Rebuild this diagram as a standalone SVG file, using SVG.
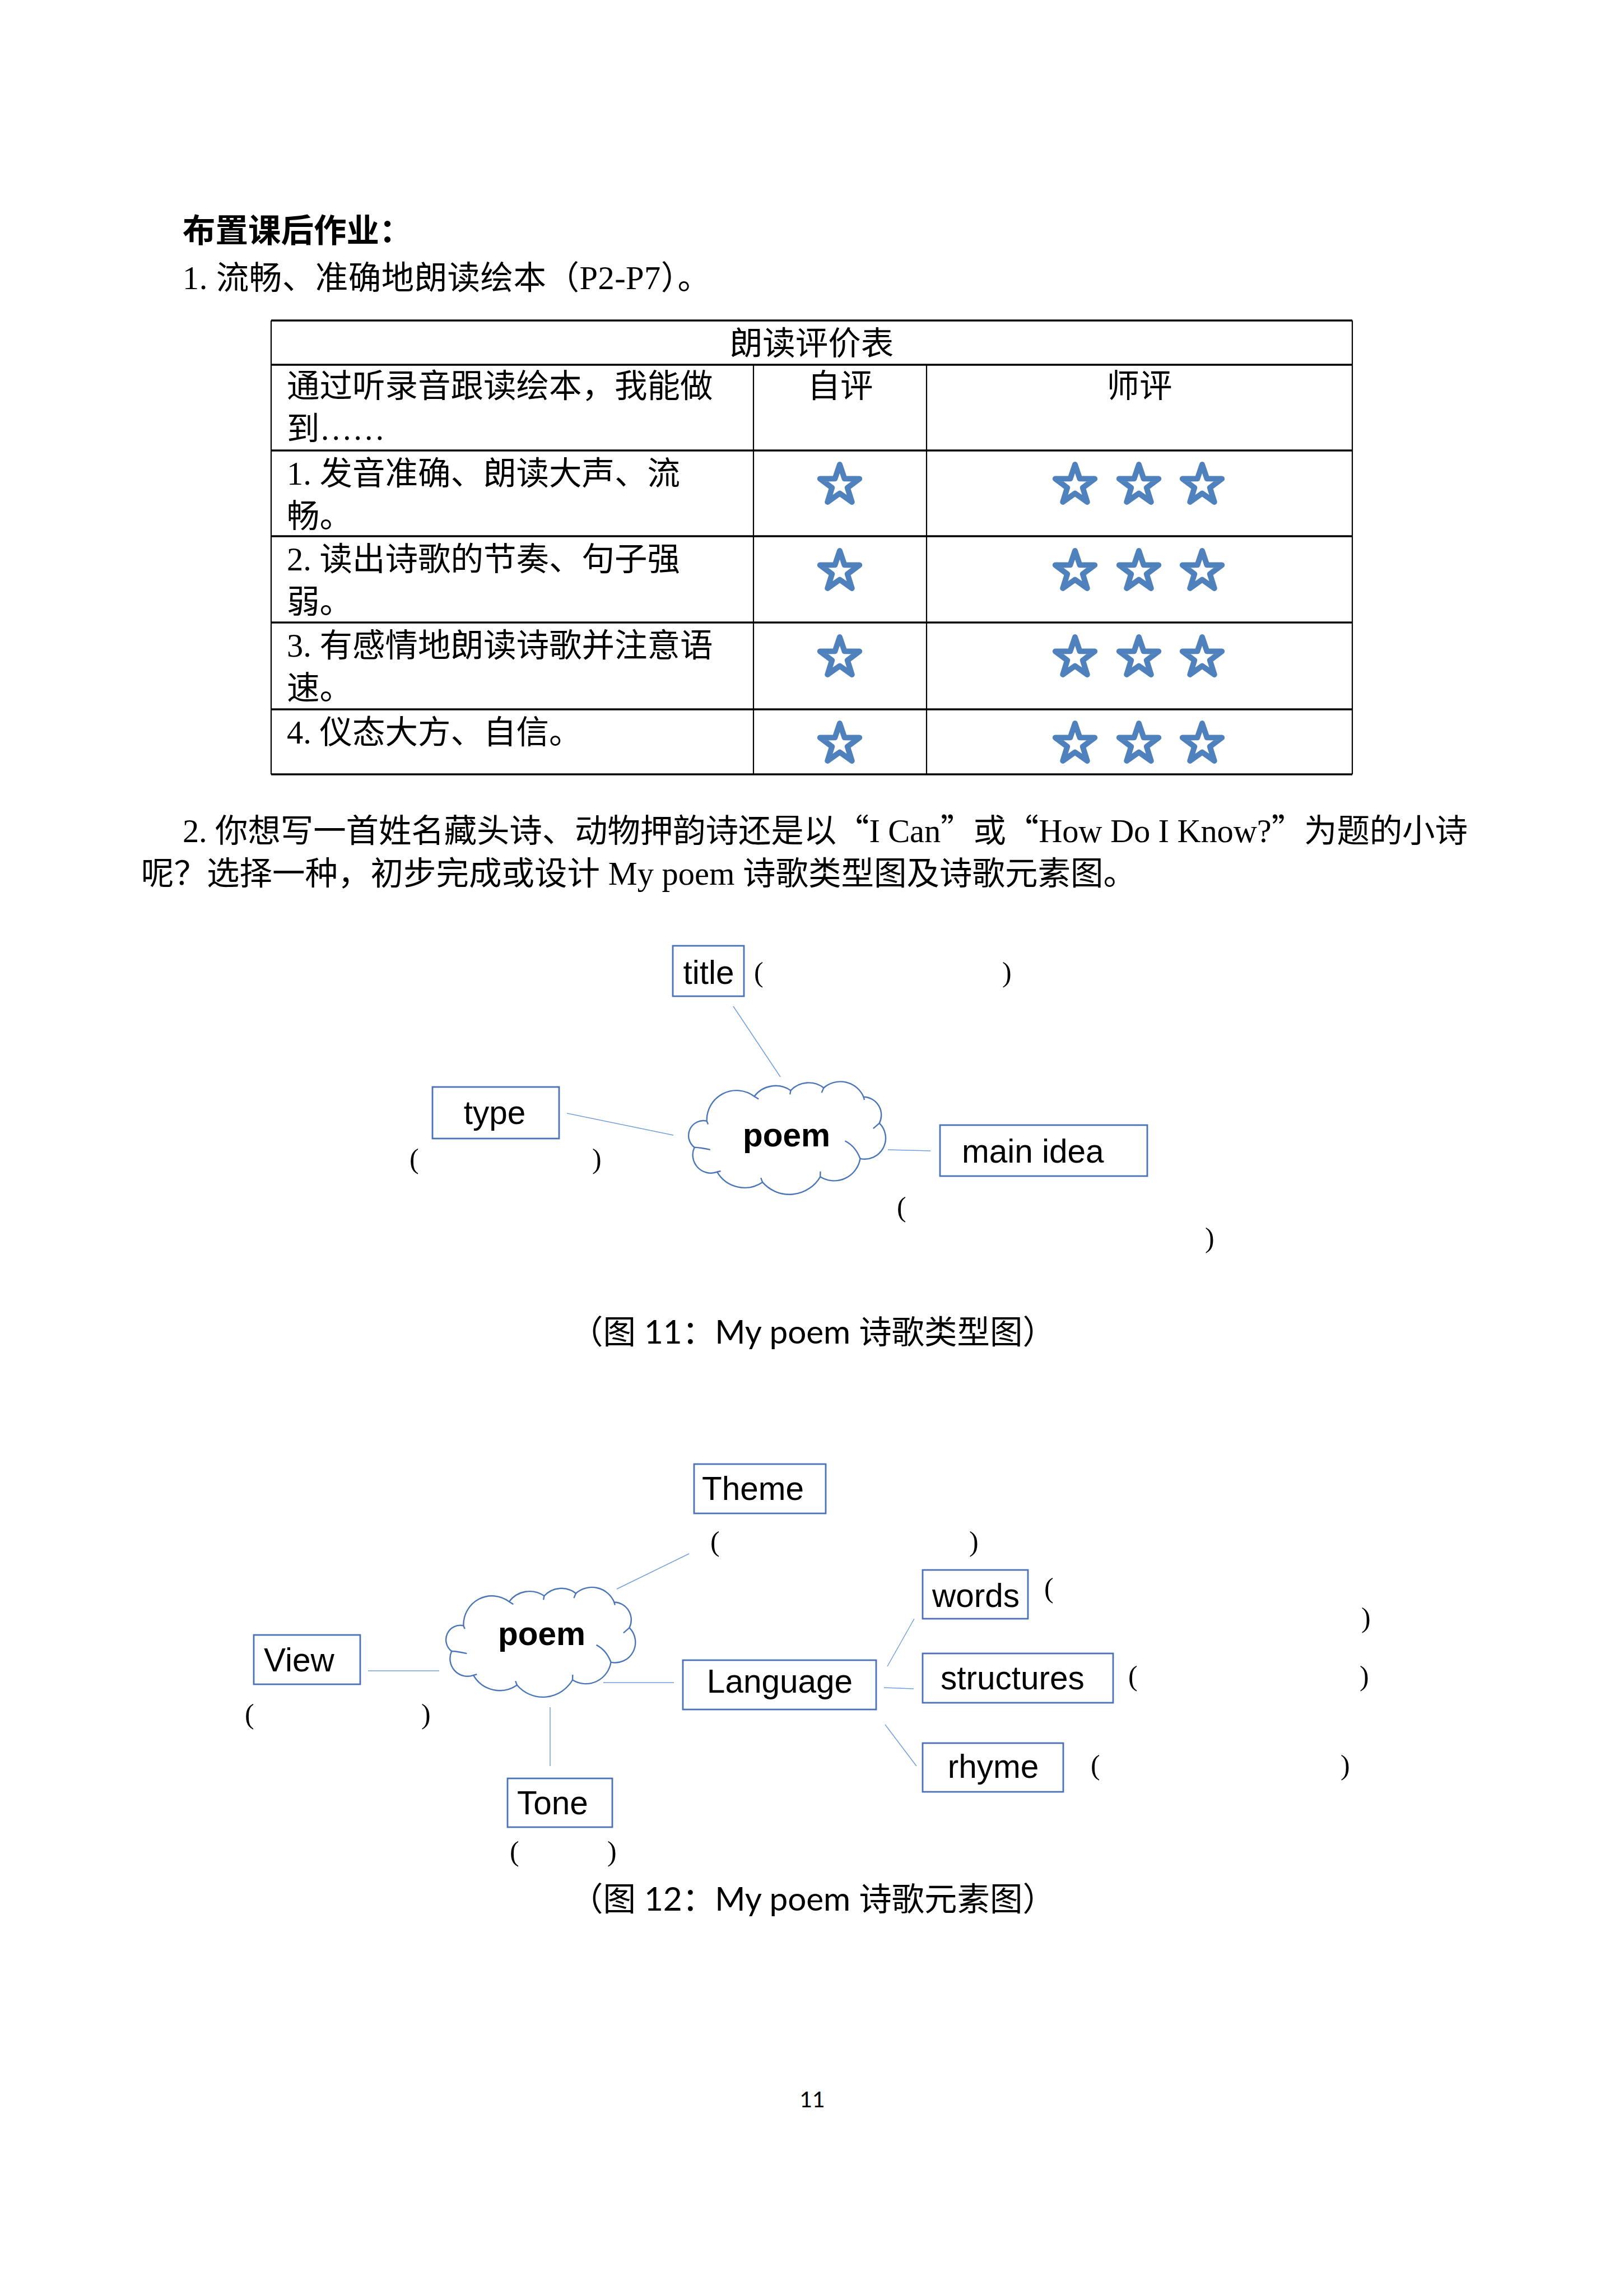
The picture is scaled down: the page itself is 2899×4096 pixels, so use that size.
<svg xmlns="http://www.w3.org/2000/svg" xmlns:xlink="http://www.w3.org/1999/xlink" width="2899" height="4096" viewBox="0 0 2899 4096">
<style>
.t{font-family:'Liberation Serif','Noto Sans CJK SC',serif;font-size:58.5px;fill:#000}
.cj{font-family:'Noto Sans CJK SC',sans-serif}
.b{font-weight:bold}
.lbl{font-family:'Liberation Sans',Arial,sans-serif;font-size:58.5px;fill:#000}
.pb{font-family:'Liberation Sans',Arial,sans-serif;font-size:58.5px;font-weight:bold;fill:#000}
.par{font-family:'Liberation Serif',serif;font-size:50px;fill:#000}
.cap{font-family:Lato,'Noto Sans CJK SC',sans-serif;font-size:58.5px;fill:#000}
.box{fill:#fff;stroke:#4A72B5;stroke-width:2.8}
.conn{stroke:#6F9FDB;stroke-width:1.5;fill:none}
.cloud{fill:#fff;stroke:#4A76B8;stroke-width:2.4;vector-effect:non-scaling-stroke}
.stub{fill:none;stroke:#4A76B8;stroke-width:2.4;vector-effect:non-scaling-stroke}
.hl{stroke:#000;stroke-width:3.4}
.vl{stroke:#000;stroke-width:2.2}
.star{fill:none;stroke:#4F81BD;stroke-width:10;stroke-linejoin:round}
</style>
<defs>
<polygon id="star" class="star" points="0,-37 8.52,-11.73 35.19,-11.43 13.79,4.48 21.75,29.93 0,14.5 -21.75,29.93 -13.79,4.48 -35.19,-11.43 -8.52,-11.73"/>
<g id="cloudshape">
<path class="cloud" d="M32.7,69.3 A52.9,52.9 0 0 1 117.4,25.3 A47.8,47.8 0 0 1 182.5,14.7 A44,44 0 0 1 241.4,10 A45.2,45.2 0 0 1 312.6,26.2 A32.4,32.4 0 0 1 340.8,73.1 A37.4,37.4 0 0 1 306.5,136.3 A47.1,47.1 0 0 1 235.2,168.8 A63.8,63.8 0 0 1 132.1,178.4 A56.8,56.8 0 0 1 51.1,160.2 A32.4,32.4 0 0 1 10.6,116.2 A26.5,26.5 0 0 1 32.7,69.3 Z"/>
<path class="stub" d="M32.7,69.3 L35,75 M117.4,25.3 L125.2,30 M182.5,14.7 L181.2,21.8 M241.4,10 L237.7,18.6 M312.6,26.2 L314,31.5 M340.8,73.1 L329.8,82.7 M279.4,104.7 Q298,114 306.5,136.3 M235.2,168.8 L235.5,159.2 M132.1,178.4 L129.2,170.7 M51.1,160.2 L57.5,158.5 M10.6,116.2 Q22,116.5 38.8,120.4"/>
</g>
</defs>
<rect x="0" y="0" width="2899" height="4096" fill="#fff"/>

<g id="heading">
<text class="t b" x="326" y="432">布置课后作业：</text>
<text class="t" x="326" y="516" textLength="942" lengthAdjust="spacing">1.  流畅、准确地朗读绘本（P2-P7）。</text>
</g>

<g id="table">
<line class="hl" x1="484" y1="572" x2="2414" y2="572"/>
<line class="hl" x1="484" y1="651" x2="2414" y2="651"/>
<line class="hl" x1="484" y1="804" x2="2414" y2="804"/>
<line class="hl" x1="484" y1="957" x2="2414" y2="957"/>
<line class="hl" x1="484" y1="1111" x2="2414" y2="1111"/>
<line class="hl" x1="484" y1="1266" x2="2414" y2="1266"/>
<line class="hl" x1="484" y1="1382" x2="2414" y2="1382"/>
<line class="vl" x1="484" y1="572" x2="484" y2="1382"/>
<line class="vl" x1="2414" y1="572" x2="2414" y2="1382"/>
<line class="vl" x1="1345" y1="651" x2="1345" y2="1382"/>
<line class="vl" x1="1654" y1="651" x2="1654" y2="1382"/>
<text class="t" x="1449" y="633" text-anchor="middle">朗读评价表</text>
<text class="t" x="512" y="709">通过听录音跟读绘本，我能做</text>
<text class="t" x="512" y="785">到……</text>
<text class="t" x="1500" y="709" text-anchor="middle">自评</text>
<text class="t" x="2034" y="709" text-anchor="middle">师评</text>
<text class="t" x="512" y="865">1. 发音准确、朗读大声、流</text>
<text class="t" x="512" y="941">畅。</text>
<text class="t" x="512" y="1018">2. 读出诗歌的节奏、句子强</text>
<text class="t" x="512" y="1094">弱。</text>
<text class="t" x="512" y="1172">3. 有感情地朗读诗歌并注意语</text>
<text class="t" x="512" y="1248">速。</text>
<text class="t" x="512" y="1327">4. 仪态大方、自信。</text>
<g id="stars">
<use xlink:href="#star" x="1499" y="866"/><use xlink:href="#star" x="1919" y="866"/><use xlink:href="#star" x="2033" y="866"/><use xlink:href="#star" x="2146" y="866"/>
<use xlink:href="#star" x="1499" y="1020"/><use xlink:href="#star" x="1919" y="1020"/><use xlink:href="#star" x="2033" y="1020"/><use xlink:href="#star" x="2146" y="1020"/>
<use xlink:href="#star" x="1499" y="1174"/><use xlink:href="#star" x="1919" y="1174"/><use xlink:href="#star" x="2033" y="1174"/><use xlink:href="#star" x="2146" y="1174"/>
<use xlink:href="#star" x="1499" y="1328"/><use xlink:href="#star" x="1919" y="1328"/><use xlink:href="#star" x="2033" y="1328"/><use xlink:href="#star" x="2146" y="1328"/>
</g>
</g>

<g id="task2">
<text class="t" x="326" y="1503" textLength="2294" lengthAdjust="spacing">2. 你想写一首姓名藏头诗、动物押韵诗还是以<tspan class="cj">“</tspan>I Can<tspan class="cj">”</tspan>或<tspan class="cj">“</tspan>How Do I Know?<tspan class="cj">”</tspan>为题的小诗</text>
<text class="t" x="252" y="1579">呢？选择一种，初步完成或设计 My poem 诗歌类型图及诗歌元素图。</text>
</g>

<g id="fig11-connectors">
<line class="conn" x1="1309" y1="1796" x2="1393" y2="1922"/>
<line class="conn" x1="1012" y1="1987" x2="1202" y2="2026"/>
<line class="conn" x1="1585" y1="2052" x2="1661" y2="2054"/>
</g>
<g id="fig11-cloud">
<use xlink:href="#cloudshape" transform="translate(1229,1931.5)"/>
<text class="pb" x="1404" y="2046" text-anchor="middle">poem</text>
</g>
<g id="fig11-title">
<rect class="box" x="1201" y="1688" width="127" height="90"/>
<text class="lbl" x="1265" y="1756" text-anchor="middle">title</text>
<text class="par" x="1346" y="1752">(</text>
<text class="par" x="1789" y="1752">)</text>
</g>
<g id="fig11-type">
<rect class="box" x="772" y="1940" width="226" height="92"/>
<text class="lbl" x="883" y="2006" text-anchor="middle">type</text>
<text class="par" x="731" y="2085">(</text>
<text class="par" x="1057" y="2085">)</text>
</g>
<g id="fig11-mainidea">
<rect class="box" x="1678" y="2008" width="370" height="91"/>
<text class="lbl" x="1717" y="2075">main idea</text>
<text class="par" x="1601" y="2171">(</text>
<text class="par" x="2151" y="2226">)</text>
</g>
<text id="caption11" class="cap" x="1018" y="2398" textLength="866" lengthAdjust="spacing">（图 11：My poem 诗歌类型图）</text>

<g id="fig12-connectors">
<line class="conn" x1="1230" y1="2773" x2="1101" y2="2836"/>
<line class="conn" x1="657" y1="2982" x2="784" y2="2982"/>
<line class="conn" x1="1077" y1="3003" x2="1203" y2="3003"/>
<line class="conn" x1="982" y1="3047" x2="982" y2="3152"/>
<line class="conn" x1="1584" y1="2974" x2="1632" y2="2889"/>
<line class="conn" x1="1578" y1="3012" x2="1631" y2="3014"/>
<line class="conn" x1="1580" y1="3078" x2="1636" y2="3152"/>
</g>
<g id="fig12-cloud">
<use xlink:href="#cloudshape" transform="translate(796,2834) scale(0.961,0.973)"/>
<text class="pb" x="967" y="2936" text-anchor="middle">poem</text>
</g>
<g id="fig12-theme">
<rect class="box" x="1239" y="2613" width="235" height="88"/>
<text class="lbl" x="1253" y="2677">Theme</text>
<text class="par" x="1268" y="2768">(</text>
<text class="par" x="1730" y="2768">)</text>
</g>
<g id="fig12-view">
<rect class="box" x="453" y="2918" width="190" height="88"/>
<text class="lbl" x="471" y="2983">View</text>
<text class="par" x="437" y="3076">(</text>
<text class="par" x="752" y="3076">)</text>
</g>
<g id="fig12-language">
<rect class="box" x="1219" y="2963" width="345" height="88"/>
<text class="lbl" x="1392" y="3021" text-anchor="middle">Language</text>
</g>
<g id="fig12-tone">
<rect class="box" x="906" y="3174" width="187" height="87"/>
<text class="lbl" x="923" y="3238">Tone</text>
<text class="par" x="910" y="3321">(</text>
<text class="par" x="1084" y="3321">)</text>
</g>
<g id="fig12-words">
<rect class="box" x="1647" y="2802" width="188" height="87"/>
<text class="lbl" x="1664" y="2868">words</text>
<text class="par" x="1864" y="2851">(</text>
<text class="par" x="2430" y="2904">)</text>
</g>
<g id="fig12-structures">
<rect class="box" x="1647" y="2951" width="340" height="88"/>
<text class="lbl" x="1679" y="3015">structures</text>
<text class="par" x="2014" y="3008">(</text>
<text class="par" x="2427" y="3008">)</text>
</g>
<g id="fig12-rhyme">
<rect class="box" x="1647" y="3111" width="251" height="87"/>
<text class="lbl" x="1773" y="3173" text-anchor="middle">rhyme</text>
<text class="par" x="1947" y="3167">(</text>
<text class="par" x="2393" y="3167">)</text>
</g>
<text id="caption12" class="cap" x="1018" y="3410" textLength="866" lengthAdjust="spacing">（图 12：My poem 诗歌元素图）</text>

<text id="pagenum" x="1450" y="3761" text-anchor="middle" font-family="Lato,'Liberation Sans',sans-serif" font-size="39">11</text>
</svg>
